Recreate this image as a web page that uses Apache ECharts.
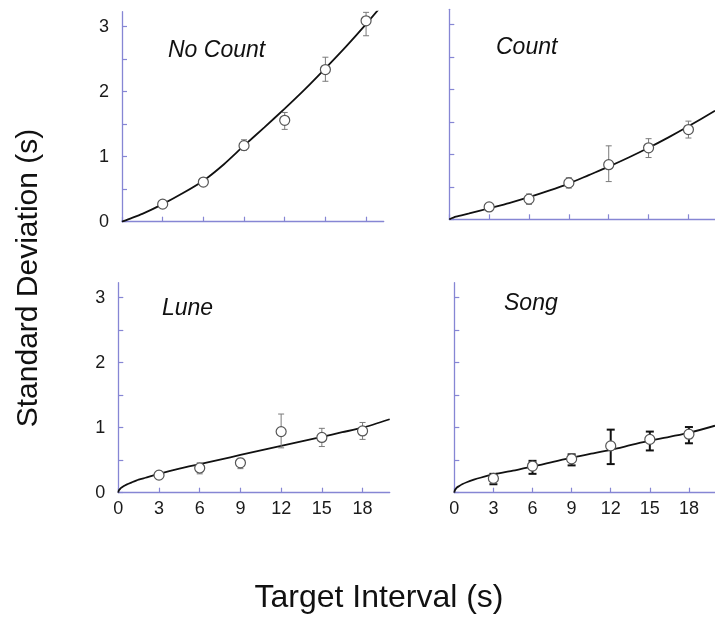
<!DOCTYPE html>
<html>
<head>
<meta charset="utf-8">
<script src="https://cdn.jsdelivr.net/npm/echarts@6/dist/echarts.min.js"></script>
<style>
html,body{margin:0;padding:0;background:#fff;}
#chart{width:715px;height:618px;}
</style>
</head>
<body>
<div id="chart"></div>
<script>
// ---- data ----
const targetIntervals = [3, 6, 9, 12, 15, 18];
const xTickValues = [0, 3, 6, 9, 12, 15, 18];
const yTickValues = [0, 0.5, 1, 1.5, 2, 2.5, 3];
const yLabelValues = [0, 1, 2, 3];
const panelTitles = ['No Count', 'Count', 'Lune', 'Song'];

const noCountMean = [0.27, 0.61, 1.17, 1.56, 2.34, 3.09];
const noCountLow  = [0.24, 0.58, 1.10, 1.42, 2.16, 2.86];
const noCountHigh = [0.30, 0.65, 1.26, 1.68, 2.53, 3.22];
const noCountCurveX = [0, 0.5, 1.5, 3, 4.5, 6, 7.5, 9, 10.5, 12, 13.5, 15, 16.5, 18, 19.3];
const noCountCurveY = [0, 0.04, 0.12, 0.27, 0.44, 0.63, 0.88, 1.17, 1.45, 1.74, 2.04, 2.36, 2.69, 3.04, 3.36];

const countMean = [0.19, 0.31, 0.56, 0.84, 1.10, 1.38];
const countLow  = [0.16, 0.23, 0.48, 0.58, 0.95, 1.25];
const countHigh = [0.22, 0.39, 0.64, 1.13, 1.24, 1.51];
const countCurveX = [0, 0.5, 1.5, 3, 4.5, 6, 7.5, 9, 10.5, 12, 13.5, 15, 16.5, 18, 20];
const countCurveY = [0, 0.04, 0.09, 0.17, 0.25, 0.34, 0.44, 0.55, 0.68, 0.81, 0.95, 1.10, 1.26, 1.43, 1.67];

const luneMean = [0.27, 0.38, 0.46, 0.94, 0.85, 0.95];
const luneLow  = [0.21, 0.29, 0.37, 0.69, 0.71, 0.82];
const luneHigh = [0.33, 0.46, 0.53, 1.21, 0.99, 1.08];
const luneCurveX = [0, 0.03, 0.1, 0.2, 0.35, 0.6, 1, 1.5, 2, 3, 4.5, 6, 7.5, 9, 10.5, 12, 13.5, 15, 16.5, 18, 20];
const luneCurveY = [0, 0.03, 0.05, 0.075, 0.095, 0.125, 0.16, 0.20, 0.23, 0.29, 0.37, 0.44, 0.51, 0.58, 0.65, 0.72, 0.79, 0.86, 0.93, 1.00, 1.13];

const songMean = [0.22, 0.41, 0.52, 0.72, 0.82, 0.90];
const songLow  = [0.13, 0.29, 0.42, 0.44, 0.65, 0.76];
const songHigh = [0.29, 0.49, 0.59, 0.97, 0.94, 1.01];
const songCurveX = [0, 0.03, 0.1, 0.2, 0.35, 0.6, 1, 1.5, 2, 3, 4.5, 6, 7.5, 9, 10.5, 12, 13.5, 15, 16.5, 18, 20];
const songCurveY = [0, 0.03, 0.055, 0.08, 0.10, 0.13, 0.165, 0.20, 0.23, 0.28, 0.34, 0.40, 0.47, 0.54, 0.60, 0.66, 0.73, 0.80, 0.86, 0.92, 1.03];

// ---- layout ----
const FONT = '"Liberation Sans", Arial, Helvetica, sans-serif';
const AXIS_COLOR = '#8686d4';
const panels = [
  {mean: noCountMean, low: noCountLow, high: noCountHigh, cx: noCountCurveX, cy: noCountCurveY,
   grid: {left: 122, top: 11.7, width: 261.7, height: 210}, xmax: 19.3, showX: false, showY: true,
   err: {color: '#7a7a7a', w: 1, cap: 3}, title: {x: 168, y: 52}},
  {mean: countMean, low: countLow, high: countHigh, cx: countCurveX, cy: countCurveY,
   grid: {left: 449.3, top: 9.3, width: 271.4, height: 210}, xmax: 20, showX: false, showY: false,
   err: {color: '#7a7a7a', w: 1, cap: 3}, title: {x: 496, y: 49}},
  {mean: luneMean, low: luneLow, high: luneHigh, cx: luneCurveX, cy: luneCurveY,
   grid: {left: 118.3, top: 282.7, width: 271.4, height: 210}, xmax: 20, showX: true, showY: true,
   err: {color: '#7a7a7a', w: 1, cap: 3}, title: {x: 162, y: 310}},
  {mean: songMean, low: songLow, high: songHigh, cx: songCurveX, cy: songCurveY,
   grid: {left: 454.3, top: 282.7, width: 271.4, height: 210}, xmax: 20, showX: true, showY: false,
   err: {color: '#111', w: 2, cap: 4}, title: {x: 504, y: 305}}
];

function errRender(color, w, cap) {
  return function (params, api) {
    const x = api.value(0), lo = api.value(1), hi = api.value(2);
    const p1 = api.coord([x, lo]), p2 = api.coord([x, hi]);
    const st = {stroke: color, lineWidth: w};
    return {type: 'group', children: [
      {type: 'line', shape: {x1: p1[0], y1: p1[1], x2: p2[0], y2: p2[1]}, style: st},
      {type: 'line', shape: {x1: p1[0] - cap, y1: p1[1], x2: p1[0] + cap, y2: p1[1]}, style: st},
      {type: 'line', shape: {x1: p2[0] - cap, y1: p2[1], x2: p2[0] + cap, y2: p2[1]}, style: st}
    ]};
  };
}

const grid = [], xAxis = [], yAxis = [], series = [], graphic = [];
panels.forEach((p, i) => {
  grid.push(Object.assign({containLabel: false}, p.grid));
  xAxis.push({
    type: 'value', gridIndex: i, min: 0, max: p.xmax, interval: 3,
    axisLine: {show: true, onZero: false, lineStyle: {color: AXIS_COLOR, width: 1.3}},
    axisTick: {show: true, inside: true, length: 5, customValues: xTickValues, lineStyle: {color: AXIS_COLOR, width: 1.2}},
    axisLabel: {show: p.showX, customValues: xTickValues, color: '#1a1a1a', fontSize: 18, fontFamily: FONT, margin: 7},
    splitLine: {show: false}
  });
  yAxis.push({
    type: 'value', gridIndex: i, min: 0, max: 3.23, interval: 0.5,
    axisLine: {show: true, onZero: false, lineStyle: {color: AXIS_COLOR, width: 1.3}},
    axisTick: {show: true, inside: true, length: 5, customValues: yTickValues, lineStyle: {color: AXIS_COLOR, width: 1.2}},
    axisLabel: {show: p.showY, customValues: yLabelValues, color: '#1a1a1a', fontSize: 18, fontFamily: FONT, margin: 13},
    splitLine: {show: false}
  });
  series.push({
    type: 'line', xAxisIndex: i, yAxisIndex: i, showSymbol: false, symbol: 'none',
    smooth: 0.25, clip: true,
    lineStyle: {color: '#111', width: 1.8},
    data: p.cx.map((x, k) => [x, p.cy[k]]), z: 2, silent: true
  });
  series.push({
    type: 'custom', xAxisIndex: i, yAxisIndex: i,
    renderItem: errRender(p.err.color, p.err.w, p.err.cap),
    encode: {x: 0, y: [1, 2]},
    data: targetIntervals.map((x, k) => [x, p.low[k], p.high[k]]), z: 3, silent: true
  });
  series.push({
    type: 'scatter', xAxisIndex: i, yAxisIndex: i, symbol: 'circle', symbolSize: 10,
    itemStyle: {color: '#fff', borderColor: '#555', borderWidth: 1.2, opacity: 1},
    data: targetIntervals.map((x, k) => [x, p.mean[k]]), z: 4, silent: true
  });
  graphic.push({
    type: 'text', left: p.title.x, top: p.title.y - 13,
    style: {text: panelTitles[i], font: 'italic 23px ' + FONT, fill: '#111'}
  });
});

graphic.push({
  type: 'text', x: 29, y: 278, rotation: Math.PI / 2,
  style: {text: 'Standard Deviation (s)', font: '30px ' + FONT, fill: '#111', align: 'center', verticalAlign: 'middle'}
});
graphic.push({
  type: 'text', x: 379, y: 598,
  style: {text: 'Target Interval (s)', font: '32px ' + FONT, fill: '#111', align: 'center', verticalAlign: 'middle'}
});

const chart = echarts.init(document.getElementById('chart'), null, {renderer: 'canvas'});
chart.setOption({
  animation: false,
  backgroundColor: '#fff',
  grid, xAxis, yAxis, series, graphic
});
</script>
</body>
</html>
